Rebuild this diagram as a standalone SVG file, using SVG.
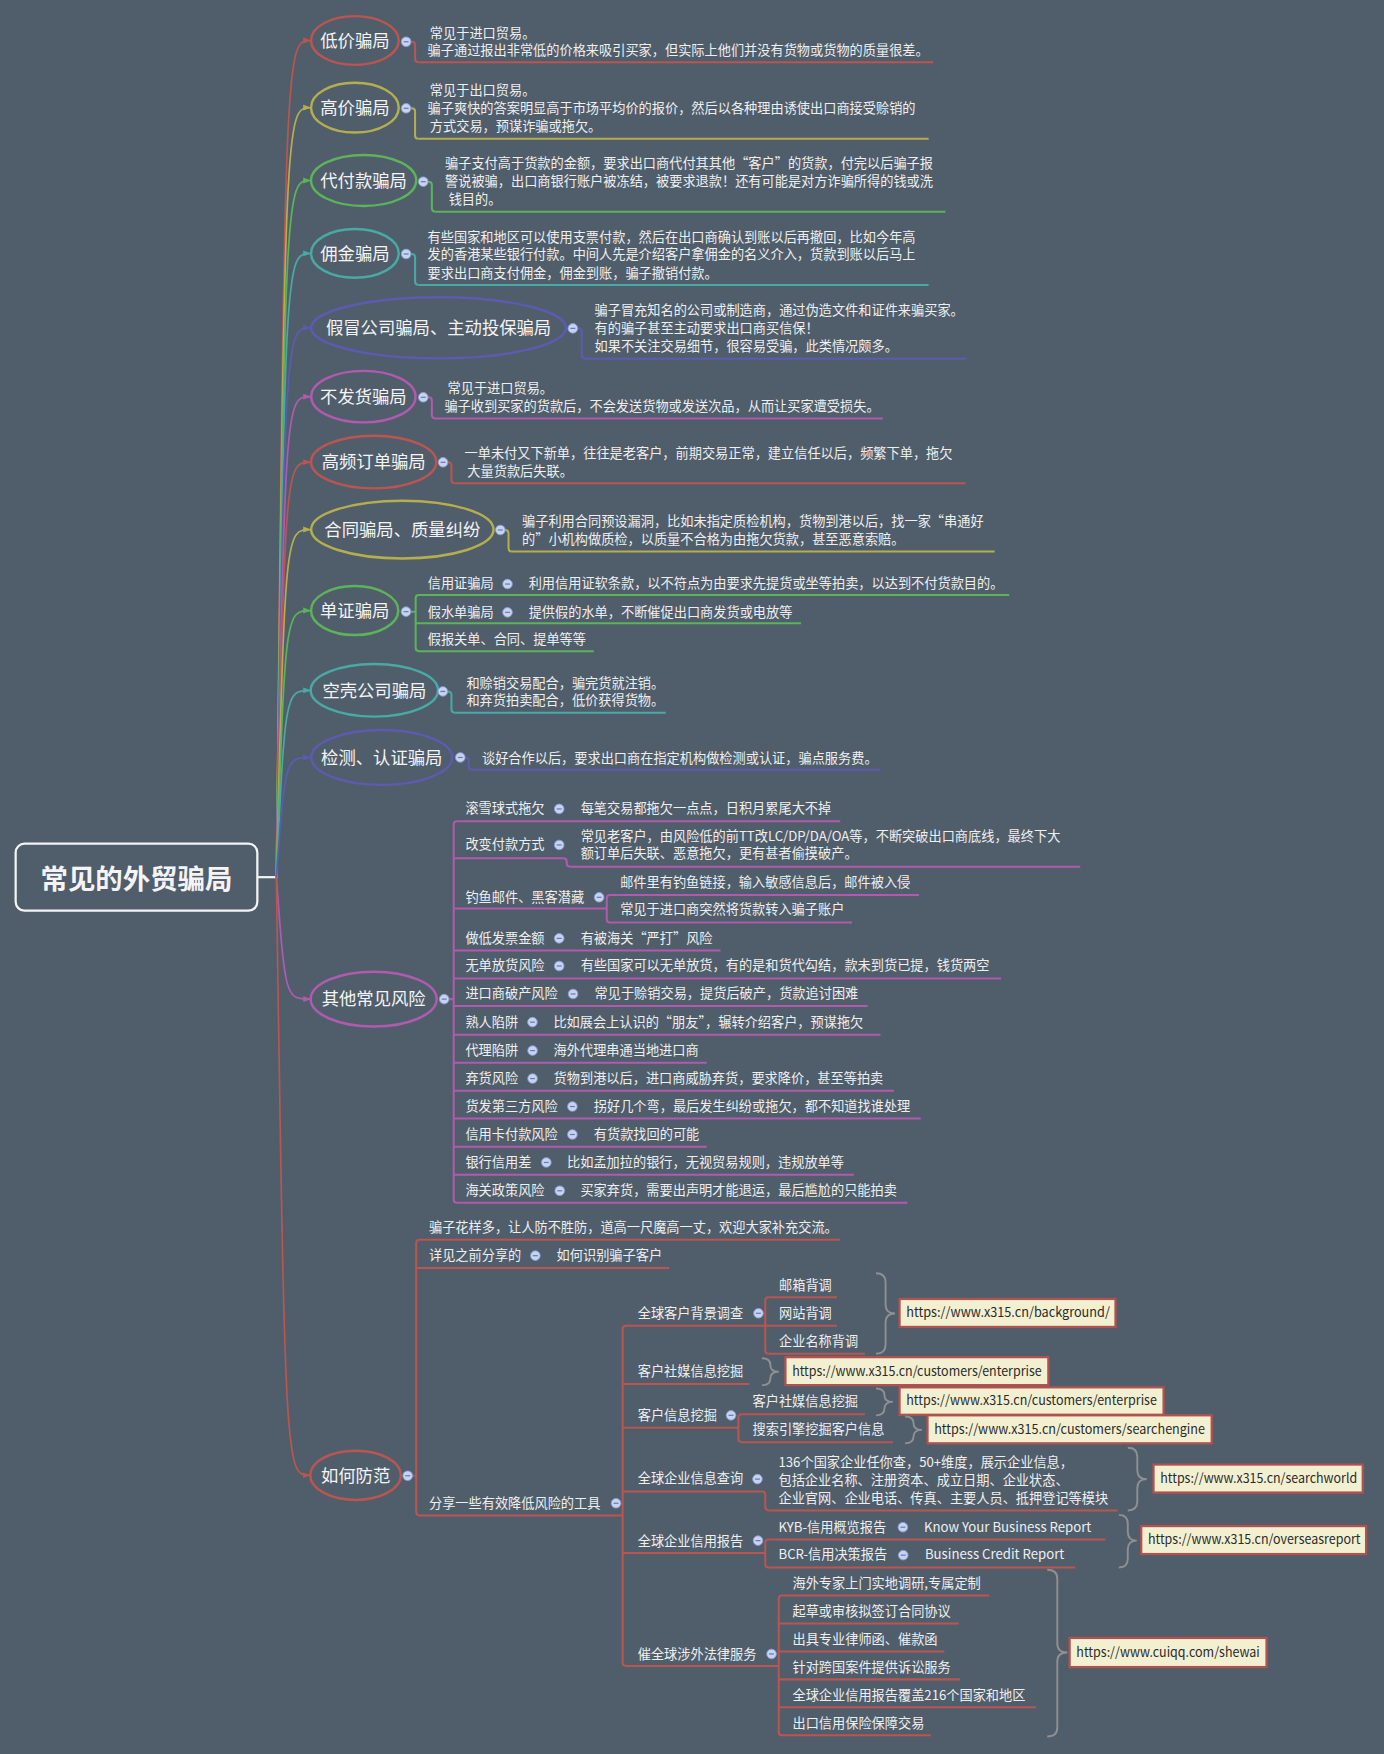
<svg xmlns="http://www.w3.org/2000/svg" xmlns:xlink="http://www.w3.org/1999/xlink" width="1384" height="1754" viewBox="0 0 1384 1754">
<style>
text{font-family:"Noto Sans CJK SC","Liberation Sans",sans-serif;dominant-baseline:central;transform:translateY(-1px)}
.t{font-size:11.8px;fill:#efefef}
.n{font-size:15.5px;fill:#f4f4f4;text-anchor:middle}
.root{font-size:24.5px;font-weight:bold;fill:#f4f4f4;text-anchor:middle}
.u{font-size:11.8px;fill:#2a2a2a}
.l{fill:none;stroke-width:1.8}
.e{fill:none;stroke-width:2.2}
.k{fill:none;stroke-width:1.5}
.br{fill:none;stroke:#8f9091;stroke-width:1.7}
.box{fill:#f3f0d2;stroke:#b0524f;stroke-width:2}
.cr{stroke:#bb5550}.cy{stroke:#b5ae4f}.cg{stroke:#5db35a}.ct{stroke:#49a9a4}.cp{stroke:#5b5caf}.cm{stroke:#b05bae}
</style>
<defs>
<g id="dot"><circle r="4.3" fill="#c6d3f1" stroke="#8b9bd0" stroke-width="0.8"/><line x1="-2.2" x2="2.2" y1="0" y2="0" stroke="#6a7bb2" stroke-width="1.1"/></g>
<marker id="ar" viewBox="0 0 8 6" refX="8" refY="3" markerWidth="7" markerHeight="6" markerUnits="userSpaceOnUse" orient="auto"><path d="M0,0 L8,3 L0,6 z" fill="#bb5550"/></marker>
<marker id="ay" viewBox="0 0 8 6" refX="8" refY="3" markerWidth="7" markerHeight="6" markerUnits="userSpaceOnUse" orient="auto"><path d="M0,0 L8,3 L0,6 z" fill="#b5ae4f"/></marker>
<marker id="ag" viewBox="0 0 8 6" refX="8" refY="3" markerWidth="7" markerHeight="6" markerUnits="userSpaceOnUse" orient="auto"><path d="M0,0 L8,3 L0,6 z" fill="#5db35a"/></marker>
<marker id="at" viewBox="0 0 8 6" refX="8" refY="3" markerWidth="7" markerHeight="6" markerUnits="userSpaceOnUse" orient="auto"><path d="M0,0 L8,3 L0,6 z" fill="#49a9a4"/></marker>
<marker id="ap" viewBox="0 0 8 6" refX="8" refY="3" markerWidth="7" markerHeight="6" markerUnits="userSpaceOnUse" orient="auto"><path d="M0,0 L8,3 L0,6 z" fill="#5b5caf"/></marker>
<marker id="am" viewBox="0 0 8 6" refX="8" refY="3" markerWidth="7" markerHeight="6" markerUnits="userSpaceOnUse" orient="auto"><path d="M0,0 L8,3 L0,6 z" fill="#b05bae"/></marker>
</defs>
<rect width="1384" height="1754" fill="#505e6c"/>
<g transform="scale(1.118835)">

<g id="connectors">
<path d="M230,784 H248" stroke="#f2f2f2" stroke-width="2" fill="none"/>
<path class="k cr" marker-end="url(#ar)" d="M247,784 C255,36.2 255,36.2 278,36.2"/>
<path class="k cy" marker-end="url(#ay)" d="M247,784 C255,96.2 255,96.2 278,96.2"/>
<path class="k cg" marker-end="url(#ag)" d="M247,784 C255,161.3 255,161.3 278,161.3"/>
<path class="k ct" marker-end="url(#at)" d="M247,784 C255,226.5 255,226.5 278,226.5"/>
<path class="k cp" marker-end="url(#ap)" d="M247,784 C255,293 255,293 278,293"/>
<path class="k cm" marker-end="url(#am)" d="M247,784 C255,354.5 255,354.5 278,354.5"/>
<path class="k cr" marker-end="url(#ar)" d="M247,784 C255,413 255,413 278,413"/>
<path class="k cy" marker-end="url(#ay)" d="M247,784 C255,473.3 255,473.3 278,473.3"/>
<path class="k cg" marker-end="url(#ag)" d="M247,784 C255,545.7 255,545.7 278,545.7"/>
<path class="k ct" marker-end="url(#at)" d="M247,784 C255,617 255,617 278,617"/>
<path class="k cp" marker-end="url(#ap)" d="M247,784 C255,677 255,677 278,677"/>
<path class="k cm" marker-end="url(#am)" d="M247,784 C255,893 255,893 278,893"/>
<path class="k cr" marker-end="url(#ar)" d="M247,784 C255,1318.6 255,1318.6 277.5,1318.6"/>

<path class="l cr" d="M367.5,37.3 H368 Q371,37.3 371,40.3 V52.7 Q371,55.7 374,55.7"/>
<path class="l cy" d="M367.5,96.8 H368 Q371,96.8 371,99.8 V121 Q371,124 374,124"/>
<path class="l cg" d="M382.6,162.4 H383 Q386,162.4 386,165.4 V186.2 Q386,189.2 389,189.2"/>
<path class="l ct" d="M367.5,227 H368 Q371,227 371,230 V251.7 Q371,254.7 374,254.7"/>
<path class="l cp" d="M516.3,293.5 H517 Q520,293.5 520,296.5 V317.6 Q520,320.6 523,320.6"/>
<path class="l cm" d="M382.6,355.1 H383 Q386,355.1 386,358.1 V371 Q386,374 389,374"/>
<path class="l cr" d="M400.3,413.2 Q403.5,413.2 403.5,416.2 V429 Q403.5,432 406.5,432"/>
<path class="l cy" d="M451.5,473.7 Q454.5,473.7 454.5,476.7 V490 Q454.5,493 457.5,493"/>
<path class="l cg" d="M367.2,546.7 H371.5 M374.5,531.8 Q371.5,531.8 371.5,534.8 V579 Q371.5,582 374.5,582"/>
<path class="l ct" d="M400.1,618 Q403.5,618 403.5,621 V634 Q403.5,637 406.5,637"/>
<path class="l cp" d="M415.7,677 Q419,677 419,680 V685 Q419,688 422,688"/>
<path class="l cm" d="M401.3,893 H405.5 M408.5,734 Q405.5,734 405.5,737 V1072 Q405.5,1075 408.5,1075"/>
<path class="l cm" d="M503.5,767 Q506.5,767 506.5,770 V771.6 Q506.5,774.6 509.5,774.6"/>
<path class="l cm" d="M545.3,800 Q542.3,800 542.3,803 V821.6 Q542.3,824.6 545.3,824.6"/>
<path class="l cr" d="M368.7,1319 H372 M375,1108 Q372,1108 372,1111 V1351.5 Q372,1354.5 375,1354.5"/>
<path class="l cr" d="M559.5,1185 Q556.5,1185 556.5,1188 V1486 Q556.5,1489 559.5,1489"/>
<path class="l cr" d="M687,1159.4 Q684,1159.4 684,1162.4 V1207 Q684,1210 687,1210"/>
<path class="l cr" d="M663,1264 Q660,1264 660,1267 V1286 Q660,1289 663,1289"/>
<path class="l cr" d="M681,1333 Q684,1333 684,1336 V1347 Q684,1350 687,1350"/>
<path class="l cr" d="M687,1376 Q684,1376 684,1379 V1398 Q684,1401 687,1401"/>
<path class="l cr" d="M699,1426 Q696,1426 696,1429 V1548 Q696,1551 699,1551"/>
</g>

<g id="root">
<rect x="14" y="754" width="216" height="60" rx="8" fill="none" stroke="#f4f4f4" stroke-width="2"/>
<text class="root" x="122" y="785">常见的外贸骗局</text>
</g>

<g id="n1"><ellipse class="e cr" cx="317.2" cy="36.2" rx="39.2" ry="21.8"/><text class="n" x="317.2" y="36.2">低价骗局</text><use href="#dot" x="363" y="37.3"/></g>
<g id="n1-d"><path class="l cr" d="M374,55.7 H834"/><text class="t" x="384.2" y="29.8">常见于进口贸易。</text><text class="t" x="382.2" y="45.6">骗子通过报出非常低的价格来吸引买家，但实际上他们并没有货物或货物的质量很差。</text></g>

<g id="n2"><ellipse class="e cy" cx="317.2" cy="96.2" rx="39.2" ry="22.3"/><text class="n" x="317.2" y="96.2">高价骗局</text><use href="#dot" x="363" y="96.8"/></g>
<g id="n2-d"><path class="l cy" d="M374,124 H830"/><text class="t" x="384.2" y="81">常见于出口贸易。</text><text class="t" x="382.2" y="96.8">骗子爽快的答案明显高于市场平均价的报价，然后以各种理由诱使出口商接受赊销的</text><text class="t" x="384.2" y="113.2">方式交易，预谋诈骗或拖欠。</text></g>

<g id="n3"><ellipse class="e cg" cx="325" cy="161.3" rx="47" ry="22.8"/><text class="n" x="325" y="161.3">代付款骗局</text><use href="#dot" x="378.3" y="162.4"/></g>
<g id="n3-d"><path class="l cg" d="M389,189.2 H845"/><text class="t" x="397.8" y="146">骗子支付高于货款的金额，要求出口商代付其其他“客户”的货款，付完以后骗子报</text><text class="t" x="397.8" y="162.4">警说被骗，出口商银行账户被冻结，被要求退款！还有可能是对方诈骗所得的钱或洗</text><text class="t" x="401" y="178.8">钱目的。</text></g>

<g id="n4"><ellipse class="e ct" cx="317.2" cy="226.5" rx="39.2" ry="21.8"/><text class="n" x="317.2" y="226.5">佣金骗局</text><use href="#dot" x="363" y="227"/></g>
<g id="n4-d"><path class="l ct" d="M374,254.7 H830"/><text class="t" x="382.2" y="212.1">有些国家和地区可以使用支票付款，然后在出口商确认到账以后再撤回，比如今年高</text><text class="t" x="382.2" y="228">发的香港某些银行付款。中间人先是介绍客户拿佣金的名义介入，货款到账以后马上</text><text class="t" x="382.2" y="244.3">要求出口商支付佣金，佣金到账，骗子撤销付款。</text></g>

<g id="n5"><ellipse class="e cp" cx="392" cy="293" rx="114" ry="27.3"/><text class="n" x="392" y="293">假冒公司骗局、主动投保骗局</text><use href="#dot" x="512" y="293.5"/></g>
<g id="n5-d"><path class="l cp" d="M523,320.6 H863.7"/><text class="t" x="531.4" y="278">骗子冒充知名的公司或制造商，通过伪造文件和证件来骗买家。</text><text class="t" x="531.4" y="294">有的骗子甚至主动要求出口商买信保！</text><text class="t" x="531.4" y="309.8">如果不关注交易细节，很容易受骗，此类情况颇多。</text></g>

<g id="n6"><ellipse class="e cm" cx="324.8" cy="354.5" rx="46.6" ry="23"/><text class="n" x="324.8" y="354.5">不发货骗局</text><use href="#dot" x="378.3" y="355.1"/></g>
<g id="n6-d"><path class="l cm" d="M389,374 H789"/><text class="t" x="400" y="347.7">常见于进口贸易。</text><text class="t" x="397.2" y="363.5">骗子收到买家的货款后，不会发送货物或发送次品，从而让买家遭受损失。</text></g>

<g id="n7"><ellipse class="e cr" cx="334" cy="413" rx="56" ry="23.5"/><text class="n" x="334" y="413">高频订单骗局</text><use href="#dot" x="396" y="413.2"/></g>
<g id="n7-d"><path class="l cr" d="M406.5,432 H863"/><text class="t" x="415.2" y="405.8">一单未付又下新单，往往是老客户，前期交易正常，建立信任以后，频繁下单，拖欠</text><text class="t" x="417.7" y="421.6">大量货款后失联。</text></g>

<g id="n8"><ellipse class="e cy" cx="359.6" cy="473.3" rx="81.5" ry="25.8"/><text class="n" x="359.6" y="473.3">合同骗局、质量纠纷</text><use href="#dot" x="447.2" y="473.7"/></g>
<g id="n8-d"><path class="l cy" d="M457.5,493 H889"/><text class="t" x="466.6" y="466.3">骗子利用合同预设漏洞，比如未指定质检机构，货物到港以后，找一家“串通好</text><text class="t" x="466.6" y="482">的”小机构做质检，以质量不合格为由拖欠货款，甚至恶意索赔。</text></g>

<g id="n9"><ellipse class="e cg" cx="317" cy="545.7" rx="39" ry="21.9"/><text class="n" x="317" y="545.7">单证骗局</text><use href="#dot" x="362.9" y="546.7"/></g>
<g id="n9-a"><path class="l cg" d="M374.5,531.8 H902"/><text class="t" x="382.3" y="522">信用证骗局</text><use href="#dot" x="453.6" y="522"/><text class="t" x="472.5" y="522">利用信用证软条款，以不符点为由要求先提货或坐等拍卖，以达到不付货款目的。</text></g>
<g id="n9-b"><path class="l cg" d="M371.5,557 H716"/><text class="t" x="382.3" y="547.3">假水单骗局</text><use href="#dot" x="453.6" y="547.3"/><text class="t" x="472.5" y="547.3">提供假的水单，不断催促出口商发货或电放等</text></g>
<g id="n9-c"><path class="l cg" d="M374.5,582 H530.7"/><text class="t" x="382.3" y="572">假报关单、合同、提单等等</text></g>

<g id="n10"><ellipse class="e ct" cx="334.6" cy="617" rx="56.9" ry="23.5"/><text class="n" x="334.6" y="617">空壳公司骗局</text><use href="#dot" x="395.8" y="618"/></g>
<g id="n10-d"><path class="l ct" d="M406.5,637 H595"/><text class="t" x="416.9" y="610.7">和赊销交易配合，骗完货就注销。</text><text class="t" x="416.9" y="626.5">和弃货拍卖配合，低价获得货物。</text></g>

<g id="n11"><ellipse class="e cp" cx="341.2" cy="677" rx="63" ry="24.5"/><text class="n" x="341.2" y="677">检测、认证骗局</text><use href="#dot" x="411.4" y="677"/></g>
<g id="n11-d"><path class="l cp" d="M422,688 H787"/><text class="t" x="430.8" y="677.8">谈好合作以后，要求出口商在指定机构做检测或认证，骗点服务费。</text></g>

<g id="n12"><ellipse class="e cm" cx="334" cy="893" rx="56.3" ry="24.5"/><text class="n" x="334" y="893">其他常见风险</text><use href="#dot" x="397" y="893"/></g>
<g id="r1"><path class="l cm" d="M408.5,734 H751"/><text class="t" x="416" y="723">滚雪球式拖欠</text><use href="#dot" x="499.8" y="723"/><text class="t" x="519" y="723">每笔交易都拖欠一点点，日积月累尾大不掉</text></g>
<g id="r2"><path class="l cm" d="M405.5,767 H503.5 M509.5,774.6 H965.5"/><text class="t" x="416" y="755.2">改变付款方式</text><use href="#dot" x="499.8" y="755.2"/><text class="t" x="519" y="747.8">常见老客户，由风险低的前TT改LC/DP/DA/OA等，不断突破出口商底线，最终下大</text><text class="t" x="519" y="763.3">额订单后失联、恶意拖欠，更有甚者偷摸破产。</text></g>
<g id="r3"><path class="l cm" d="M405.5,812 H542.3"/><text class="t" x="416" y="802">钓鱼邮件、黑客潜藏</text><use href="#dot" x="535.5" y="802"/></g>
<g id="r3-a"><path class="l cm" d="M545.3,800 H821.4"/><text class="t" x="554.3" y="789">邮件里有钓鱼链接，输入敏感信息后，邮件被入侵</text></g>
<g id="r3-b"><path class="l cm" d="M545.3,824.6 H761.6"/><text class="t" x="554.3" y="813.3">常见于进口商突然将货款转入骗子账户</text></g>
<g id="r4"><path class="l cm" d="M405.5,849.5 H644"/><text class="t" x="416" y="838.7">做低发票金额</text><use href="#dot" x="499.8" y="838.7"/><text class="t" x="519" y="838.7">有被海关“严打”风险</text></g>
<g id="r5"><path class="l cm" d="M405.5,874.5 H894.7"/><text class="t" x="416" y="863.4">无单放货风险</text><use href="#dot" x="499.8" y="863.4"/><text class="t" x="519" y="863.4">有些国家可以无单放货，有的是和货代勾结，款未到货已提，钱货两空</text></g>
<g id="r6"><path class="l cm" d="M405.5,899.2 H775.5"/><text class="t" x="416" y="888.4">进口商破产风险</text><use href="#dot" x="512.2" y="888.4"/><text class="t" x="531.4" y="888.4">常见于赊销交易，提货后破产，货款追讨困难</text></g>
<g id="r7"><path class="l cm" d="M405.5,924.8 H787"/><text class="t" x="416" y="913.6">熟人陷阱</text><use href="#dot" x="475.9" y="913.6"/><text class="t" x="494.6" y="913.6">比如展会上认识的“朋友”，辗转介绍客户，预谋拖欠</text></g>
<g id="r8"><path class="l cm" d="M405.5,949.8 H631.6"/><text class="t" x="416" y="939">代理陷阱</text><use href="#dot" x="476" y="939"/><text class="t" x="494.8" y="939">海外代理串通当地进口商</text></g>
<g id="r9"><path class="l cm" d="M405.5,974.8 H799"/><text class="t" x="416" y="964">弃货风险</text><use href="#dot" x="476" y="964"/><text class="t" x="494.8" y="964">货物到港以后，进口商威胁弃货，要求降价，甚至等拍卖</text></g>
<g id="r10"><path class="l cm" d="M405.5,999.8 H823"/><text class="t" x="416" y="989">货发第三方风险</text><use href="#dot" x="511.6" y="989"/><text class="t" x="530.7" y="989">拐好几个弯，最后发生纠纷或拖欠，都不知道找谁处理</text></g>
<g id="r11"><path class="l cm" d="M405.5,1024.9 H631.6"/><text class="t" x="416" y="1014">信用卡付款风险</text><use href="#dot" x="511.6" y="1014"/><text class="t" x="530.7" y="1014">有货款找回的可能</text></g>
<g id="r12"><path class="l cm" d="M405.5,1049.9 H763"/><text class="t" x="416" y="1039">银行信用差</text><use href="#dot" x="488.3" y="1039"/><text class="t" x="506.8" y="1039">比如孟加拉的银行，无视贸易规则，违规放单等</text></g>
<g id="r13"><path class="l cm" d="M408.5,1075 H811"/><text class="t" x="416" y="1064.3">海关政策风险</text><use href="#dot" x="500.3" y="1064.3"/><text class="t" x="518.8" y="1064.3">买家弃货，需要出声明才能退运，最后尴尬的只能拍卖</text></g>

<g id="n13"><ellipse class="e cr" cx="317.8" cy="1318.6" rx="40.5" ry="22"/><text class="n" x="317.8" y="1318.6">如何防范</text><use href="#dot" x="364.4" y="1319"/></g>
<g id="f1"><path class="l cr" d="M375,1108 H751"/><text class="t" x="383.4" y="1097">骗子花样多，让人防不胜防，道高一尺魔高一丈，欢迎大家补充交流。</text></g>
<g id="f2"><path class="l cr" d="M372,1133.4 H598"/><text class="t" x="383.4" y="1122.3">详见之前分享的</text><use href="#dot" x="478.5" y="1122.3"/><text class="t" x="497.5" y="1122.3">如何识别骗子客户</text></g>
<g id="f3"><path class="l cr" d="M375,1354.5 H556.5"/><text class="t" x="383.4" y="1343.6">分享一些有效降低风险的工具</text><use href="#dot" x="550.6" y="1343.6"/></g>

<g id="g1"><path class="l cr" d="M559.5,1185 H684"/><text class="t" x="570" y="1174">全球客户背景调查</text><use href="#dot" x="677.9" y="1173.8"/></g>
<g id="g1-a"><path class="l cr" d="M687,1159.4 H748"/><text class="t" x="696.3" y="1149.4">邮箱背调</text></g>
<g id="g1-b"><path class="l cr" d="M684,1185 H748"/><text class="t" x="696.3" y="1174">网站背调</text></g>
<g id="g1-c"><path class="l cr" d="M687,1210 H773"/><text class="t" x="696.3" y="1199">企业名称背调</text></g>
<g id="g1-u"><path class="br" d="M783,1138 Q791.5,1138 791.5,1146 L791.5,1166 Q791.5,1174 800,1174 Q791.5,1174 791.5,1182 L791.5,1202 Q791.5,1210 783,1210"/><rect class="box" x="804" y="1161" width="193" height="25"/><text class="u" x="810" y="1173.5" textLength="182" lengthAdjust="spacingAndGlyphs">https://www.x315.cn/background/</text></g>

<g id="g2"><path class="l cr" d="M556.5,1237 H670"/><text class="t" x="570" y="1226">客户社媒信息挖掘</text></g>
<g id="g2-u"><path class="br" d="M681,1214 Q688.5,1214 688.5,1220 Q688.5,1226 696,1226 Q688.5,1226 688.5,1232 Q688.5,1238 681,1238"/><rect class="box" x="702" y="1213" width="235" height="25"/><text class="u" x="708" y="1225.5" textLength="223" lengthAdjust="spacingAndGlyphs">https://www.x315.cn/customers/enterprise</text></g>

<g id="g3"><path class="l cr" d="M556.5,1276 H660"/><text class="t" x="570" y="1265.3">客户信息挖掘</text><use href="#dot" x="653.4" y="1265"/></g>
<g id="g3-a"><path class="l cr" d="M663,1264 H773"/><text class="t" x="672.6" y="1252.8">客户社媒信息挖掘</text></g>
<g id="g3-a-u"><path class="br" d="M783,1241 Q790.5,1241 790.5,1247 Q790.5,1253 798,1253 Q790.5,1253 790.5,1259 Q790.5,1265 783,1265"/><rect class="box" x="804" y="1240" width="236" height="24.5"/><text class="u" x="810" y="1252.3" textLength="224" lengthAdjust="spacingAndGlyphs">https://www.x315.cn/customers/enterprise</text></g>
<g id="g3-b"><path class="l cr" d="M663,1289 H798"/><text class="t" x="672.6" y="1277.5">搜索引擎挖掘客户信息</text></g>
<g id="g3-b-u"><path class="br" d="M809,1266 Q816.5,1266 816.5,1272 Q816.5,1278 824,1278 Q816.5,1278 816.5,1284 Q816.5,1290 809,1290"/><rect class="box" x="829" y="1265" width="254" height="25"/><text class="u" x="835" y="1277.5" textLength="242" lengthAdjust="spacingAndGlyphs">https://www.x315.cn/customers/searchengine</text></g>

<g id="g4"><path class="l cr" d="M556.5,1333 H681"/><text class="t" x="570" y="1322">全球企业信息查询</text><use href="#dot" x="677" y="1322"/></g>
<g id="g4-a"><path class="l cr" d="M687,1350 H999"/><text class="t" x="695.8" y="1307.3">136个国家企业任你查，50+维度，展示企业信息，</text><text class="t" x="695.8" y="1323.7">包括企业名称、注册资本、成立日期、企业状态、</text><text class="t" x="695.8" y="1339.2">企业官网、企业电话、传真、主要人员、抵押登记等模块</text></g>
<g id="g4-u"><path class="br" d="M1008,1294 Q1016.5,1294 1016.5,1302 L1016.5,1314 Q1016.5,1322 1025,1322 Q1016.5,1322 1016.5,1330 L1016.5,1342 Q1016.5,1350 1008,1350"/><rect class="box" x="1031" y="1309" width="187" height="25"/><text class="u" x="1037" y="1321.5" textLength="176" lengthAdjust="spacingAndGlyphs">https://www.x315.cn/searchworld</text></g>

<g id="g5"><path class="l cr" d="M556.5,1388 H684"/><text class="t" x="570" y="1377.5">全球企业信用报告</text><use href="#dot" x="677.5" y="1377"/></g>
<g id="g5-a"><path class="l cr" d="M687,1376 H988"/><text class="t" x="695.8" y="1365">KYB-信用概览报告</text><use href="#dot" x="807" y="1365"/><text class="t" x="825.8" y="1365">Know Your Business Report</text></g>
<g id="g5-b"><path class="l cr" d="M687,1401 H961"/><text class="t" x="695.8" y="1389.8">BCR-信用决策报告</text><use href="#dot" x="807.3" y="1390"/><text class="t" x="826.7" y="1389.8">Business Credit Report</text></g>
<g id="g5-u"><path class="br" d="M1000,1354 Q1008,1354 1008,1362 L1008,1369 Q1008,1377 1016,1377 Q1008,1377 1008,1385 L1008,1393 Q1008,1401 1000,1401"/><rect class="box" x="1020" y="1364" width="201" height="25"/><text class="u" x="1026" y="1376.5" textLength="190" lengthAdjust="spacingAndGlyphs">https://www.x315.cn/overseasreport</text></g>

<g id="g6"><path class="l cr" d="M559.5,1489 H696"/><text class="t" x="570" y="1478.6">催全球涉外法律服务</text><use href="#dot" x="689.6" y="1478.3"/></g>
<g id="g6-a"><path class="l cr" d="M699,1426 H884"/><text class="t" x="708.3" y="1415.7">海外专家上门实地调研,专属定制</text></g>
<g id="g6-b"><path class="l cr" d="M696,1451 H857"/><text class="t" x="708.3" y="1440.5">起草或审核拟签订合同协议</text></g>
<g id="g6-c"><path class="l cr" d="M696,1476 H844"/><text class="t" x="708.3" y="1465.7">出具专业律师函、催款函</text></g>
<g id="g6-d"><path class="l cr" d="M696,1501 H858"/><text class="t" x="708.3" y="1490.5">针对跨国案件提供诉讼服务</text></g>
<g id="g6-e"><path class="l cr" d="M696,1526 H926"/><text class="t" x="708.3" y="1515.5">全球企业信用报告覆盖216个国家和地区</text></g>
<g id="g6-f"><path class="l cr" d="M699,1551 H832"/><text class="t" x="708.3" y="1540.3">出口信用保险保障交易</text></g>
<g id="g6-u"><path class="br" d="M936,1403 Q945,1403 945,1411 L945,1469 Q945,1477 954,1477 Q945,1477 945,1485 L945,1544 Q945,1552 936,1552"/><rect class="box" x="956" y="1464" width="176" height="26"/><text class="u" x="962" y="1477" textLength="164" lengthAdjust="spacingAndGlyphs">https://www.cuiqq.com/shewai</text></g>

</g>
</svg>
